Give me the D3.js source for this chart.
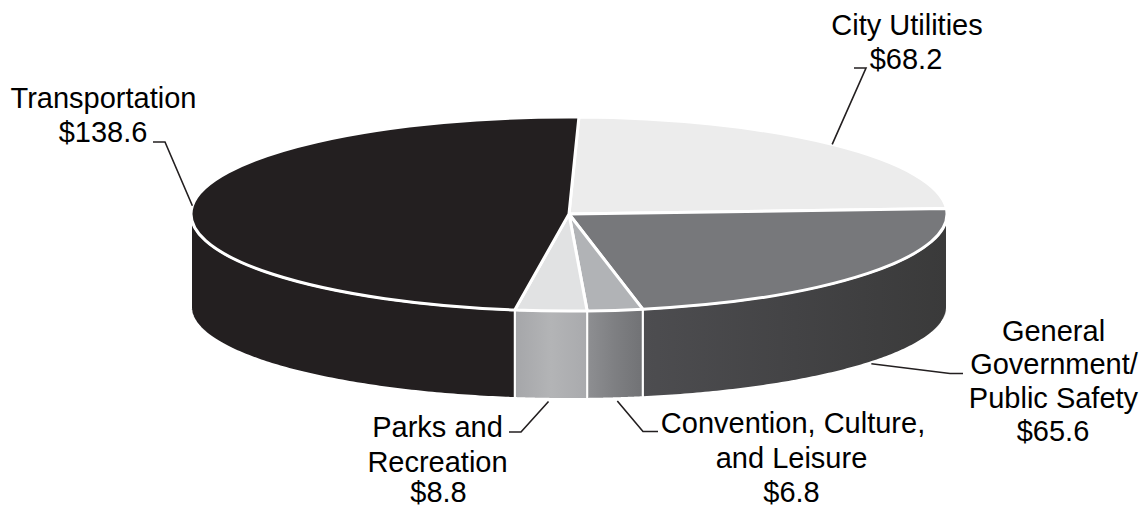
<!DOCTYPE html>
<html>
<head>
<meta charset="utf-8">
<script src="https://cdn.jsdelivr.net/npm/d3@7/dist/d3.min.js"></script>
<style>
  html, body { margin: 0; padding: 0; background: #ffffff; }
  svg { display: block; }
  text { font-family: "Liberation Sans", Arial, sans-serif; font-size: 29px; fill: #000000; }
</style>
</head>
<body>
<svg id="chart" width="1146" height="508"></svg>
<script>
// Budget by service area (millions of dollars)
const categories = ["City Utilities", "General Government/Public Safety", "Convention, Culture, and Leisure", "Parks and Recreation", "Transportation"];
const values = [68.2, 65.6, 6.8, 8.8, 138.6];
const valueLabels = ["$68.2", "$65.6", "$6.8", "$8.8", "$138.6"];
const labelLines = [
  ["City Utilities"],
  ["General", "Government/", "Public Safety"],
  ["Convention, Culture,", "and Leisure"],
  ["Parks and", "Recreation"],
  ["Transportation"]
];

// Face colours: top face, and side gradient stops
const topColors = ["#ececec", "#77787b", "#b1b3b6", "#e1e2e3", "#231f20"];
const sideStops = [
  ["#e4e4e4", "#d8d8d8"],
  ["#4d4d50", "#434345", "#3a3a3a"],
  ["#8e8f92", "#7e7f82", "#717275"],
  ["#a5a6a9", "#b3b4b6", "#a9aaad"],
  ["#231f20", "#231f20"]
];

// Ellipse geometry of the tilted disc
const geom = { cx: 569, cy: 214, rx: 378, ry: 97, cyB: 307, ryB: 92 };
const startDeg = 1.5;

// Label placement: text lines (x, baseline) and leader elbow / end
const labelLayout = [
  { lines: [[907, 35], [906, 68.5]], leader: { on: "top", elbow: [866, 68], end: [854, 68] } },
  { lines: [[1053.5, 341], [1054, 374], [1053.5, 407.5], [1053, 441]], leader: { on: "bottom", elbow: [950, 373.5], end: [963, 373.5] } },
  { lines: [[793, 433], [791.5, 468], [791.5, 502]], leader: { on: "bottom", elbow: [643, 431.5], end: [658, 431.5] } },
  { lines: [[437.5, 437], [437.5, 471.5], [438.5, 502]], leader: { on: "bottom", elbow: [521, 432], end: [509, 432] } },
  { lines: [[103.5, 108], [103, 142]], leader: { on: "top", elbow: [165, 142], end: [153, 142] } }
];

const svg = d3.select("#chart");
const defs = svg.append("defs");

const data = categories.map((c, i) => ({ category: c, value: values[i], idx: i }));
const rad = d3.scaleLinear().domain([0, 360]).range([0, 2 * Math.PI]);
const s0 = rad(startDeg);
const pie = d3.pie().sort(null).value(d => d.value).startAngle(s0).endAngle(s0 + 2 * Math.PI);
const arcs = pie(data);

const topPt = a => [geom.cx + geom.rx * Math.sin(a), geom.cy - geom.ry * Math.cos(a)];
const botPt = a => [geom.cx + geom.rx * Math.sin(a), geom.cyB - geom.ryB * Math.cos(a)];

// Side gradients
arcs.forEach((a, i) => {
  const g = defs.append("linearGradient").attr("id", "side" + i)
    .attr("x1", "0%").attr("x2", "100%").attr("y1", "0%").attr("y2", "0%");
  const stops = sideStops[i];
  stops.forEach((c, k) => g.append("stop")
    .attr("offset", (k / (stops.length - 1) * 100) + "%").attr("stop-color", c));
});

// Visible (front) part of the rim: angles between 90° and 270°
const frontLo = Math.PI / 2, frontHi = 3 * Math.PI / 2;
const sidePath = (a0, a1) => {
  const steps = d3.range(0, 1.0001, 1 / 120).map(t => a0 + (a1 - a0) * t);
  const upper = steps.map(topPt);
  const lower = steps.slice().reverse().map(botPt);
  return d3.line()(upper.concat(lower)) + "Z";
};

const sides = svg.append("g");
arcs.forEach((a, i) => {
  let lo = Math.max(a.startAngle, frontLo);
  let hi = Math.min(a.endAngle, frontHi);
  if (hi > lo) {
    sides.append("path")
      .attr("d", sidePath(lo, hi))
      .attr("fill", `url(#side${i})`)
      .attr("stroke", "#ffffff").attr("stroke-width", 2).attr("stroke-linejoin", "round");
  }
});

// Top faces
const topPath = (a0, a1) => {
  const p0 = topPt(a0), p1 = topPt(a1);
  const large = (a1 - a0) > Math.PI ? 1 : 0;
  return `M${geom.cx},${geom.cy}L${p0[0]},${p0[1]}A${geom.rx},${geom.ry} 0 ${large} 1 ${p1[0]},${p1[1]}Z`;
};
svg.append("g").selectAll("path").data(arcs).join("path")
  .attr("d", d => topPath(d.startAngle, d.endAngle))
  .attr("fill", (d, i) => topColors[i])
  .attr("stroke", "#ffffff").attr("stroke-width", 3).attr("stroke-linejoin", "round");

// Leader lines
const leaders = svg.append("g");
arcs.forEach((a, i) => {
  const mid = (a.startAngle + a.endAngle) / 2;
  const L = labelLayout[i].leader;
  let start = L.on === "top" ? topPt(mid) : botPt(mid);
  if (L.on === "bottom") {
    const dx = L.elbow[0] - start[0], dy = L.elbow[1] - start[1];
    const len = Math.hypot(dx, dy);
    start = [start[0] + dx / len * 3.5, start[1] + dy / len * 3.5];
  }
  leaders.append("path")
    .attr("d", d3.line()([start, L.elbow, L.end]))
    .attr("fill", "none").attr("stroke", "#231f20").attr("stroke-width", 1.6);
});

// Labels
const labels = svg.append("g");
arcs.forEach((a, i) => {
  const lines = labelLines[i].concat([valueLabels[i]]);
  lines.forEach((t, k) => {
    const pos = labelLayout[i].lines[k];
    labels.append("text")
      .attr("x", pos[0]).attr("y", pos[1])
      .attr("text-anchor", "middle")
      .text(t);
  });
});
</script>
</body>
</html>
